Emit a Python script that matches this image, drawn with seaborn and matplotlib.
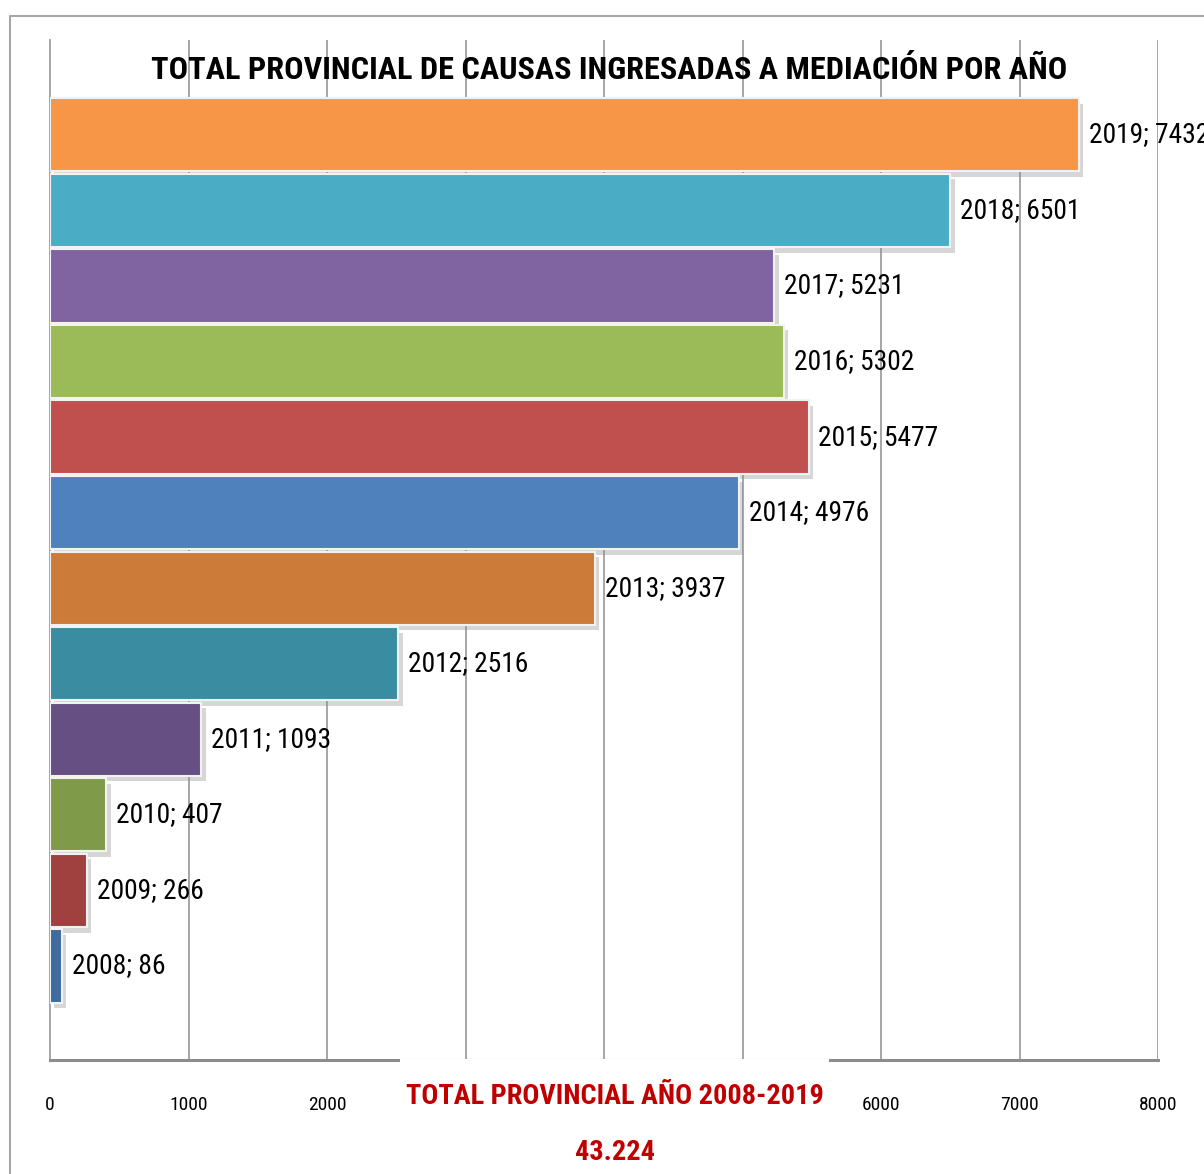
import matplotlib
matplotlib.use("Agg")
import matplotlib.pyplot as plt
import matplotlib.patheffects as pe
from matplotlib import font_manager
from matplotlib.patches import Rectangle
from matplotlib.lines import Line2D
import pandas as pd
import seaborn as sns

# ---- data (top bar first) ----
YEARS = ['2019', '2018', '2017', '2016', '2015', '2014',
         '2013', '2012', '2011', '2010', '2009', '2008']
CAUSAS = [7432, 6501, 5231, 5302, 5477, 4976, 3937, 2516, 1093, 407, 266, 86]
BAR_COLORS = ['#F79646', '#4BACC6', '#8064A2', '#9BBB59', '#C0504D', '#4F81BD',
              '#CC7B38', '#3A8DA1', '#664F82', '#7F9A48', '#A0413F', '#3F6B9E']
X_TICKS = [0, 1000, 2000, 3000, 4000, 5000, 6000, 7000, 8000]

TITLE = 'TOTAL PROVINCIAL DE CAUSAS INGRESADAS A MEDIACIÓN POR AÑO'
TOTAL_LABEL = 'TOTAL PROVINCIAL AÑO 2008-2019'
TOTAL_VALUE = '43.224'


def pick_font(candidates):
    for name in candidates:
        try:
            font_manager.findfont(font_manager.FontProperties(family=name),
                                  fallback_to_default=False)
            return name
        except ValueError:
            continue
    return 'DejaVu Sans'


FONT = pick_font(['Liberation Sans Narrow', 'Roboto Condensed', 'Open Sans Condensed',
                  'Roboto', 'Lato'])
NARROW = FONT in ('Liberation Sans Narrow', 'Roboto Condensed', 'Open Sans Condensed')

sns.set_theme(style="white")
plt.rcParams['font.family'] = [FONT, 'DejaVu Sans']

# sizes tuned so text widths match the reference
LABEL_FS = 19.8 if NARROW else 18.5
TICK_FS = 14 if NARROW else 12.5
TITLE_FS = 23.2 if NARROW else 20
TOTAL_FS = 20.3 if NARROW else 20.5

df = pd.DataFrame({'Year': YEARS, 'Causas': CAUSAS})
palette = dict(zip(YEARS, BAR_COLORS))

W, H = 1204, 1174
fig = plt.figure(figsize=(W / 100, H / 100), dpi=100)
ax = fig.add_axes([50 / W, 1 - 1060 / H, (1158 - 50) / W, (1060 - 40) / H])

sns.barplot(data=df, y='Year', x='Causas', hue='Year', palette=palette,
            order=YEARS, orient='h', width=0.97, legend=False, ax=ax,
            edgecolor='#F2F2F2', linewidth=1.5, saturation=1)

for bar in ax.patches:
    bar.set_path_effects([pe.SimplePatchShadow(offset=(3, -4), shadow_rgbFace='#8C8C8C', alpha=0.35),
                          pe.Normal()])
    bar.set_zorder(3)

# data labels "year; value"
for i, (yr, val) in enumerate(zip(YEARS, CAUSAS)):
    ax.text(val + 70, i, f'{yr}; {val}', va='center', ha='left',
            fontsize=LABEL_FS, color='black', clip_on=False, zorder=5)

ax.set_xlim(0, 8000)
ax.set_ylim(12.245, -1.255)
ax.set_xticks(X_TICKS)
ax.set_xticklabels([str(t) for t in X_TICKS], fontsize=TICK_FS)
ax.tick_params(axis='x', length=0, pad=26, colors='black')
# labels 3000-5000 sit under the white total box in the original
for t, lab in zip(X_TICKS, ax.get_xticklabels()):
    if 2500 < t < 5800:
        lab.set_visible(False)
ax.set_yticks([])
ax.set_xlabel('')
ax.set_ylabel('')
ax.grid(axis='x', color='#A6A6A6', linewidth=1.4)
ax.set_axisbelow(True)

for side in ['top', 'right']:
    ax.spines[side].set_visible(False)
ax.spines['left'].set_color('#A6A6A6')
ax.spines['left'].set_linewidth(1.4)
ax.spines['bottom'].set_color('#8C8C8C')
ax.spines['bottom'].set_linewidth(2.2)

# title drawn inside the plot area
fig.text(609 / W, 1 - 70 / H, TITLE, ha='center', va='center',
         fontsize=TITLE_FS, fontweight='bold', color='black')

# white box with the provincial total, covering the lower axis
fig.patches.append(Rectangle((400 / W, 0), (829 - 400) / W, 1 - 1059 / H,
                             transform=fig.transFigure, facecolor='white',
                             edgecolor='none', zorder=10))
fig.text(615 / W, 1 - 1097 / H, TOTAL_LABEL, ha='center', va='center',
         fontsize=TOTAL_FS, fontweight='bold', color='#C00000', zorder=11)
fig.text(615 / W, 1 - 1152 / H, TOTAL_VALUE, ha='center', va='center',
         fontsize=TOTAL_FS, fontweight='bold', color='#C00000', zorder=11)

# outer chart frame (top and left edges)
fig.add_artist(Line2D([10 / W, 10 / W, 1.0], [0, 1 - 16 / H, 1 - 16 / H],
                      transform=fig.transFigure, color='#A6A6A6', linewidth=1.5))

fig.savefig('out.png', dpi=100, facecolor='white')
